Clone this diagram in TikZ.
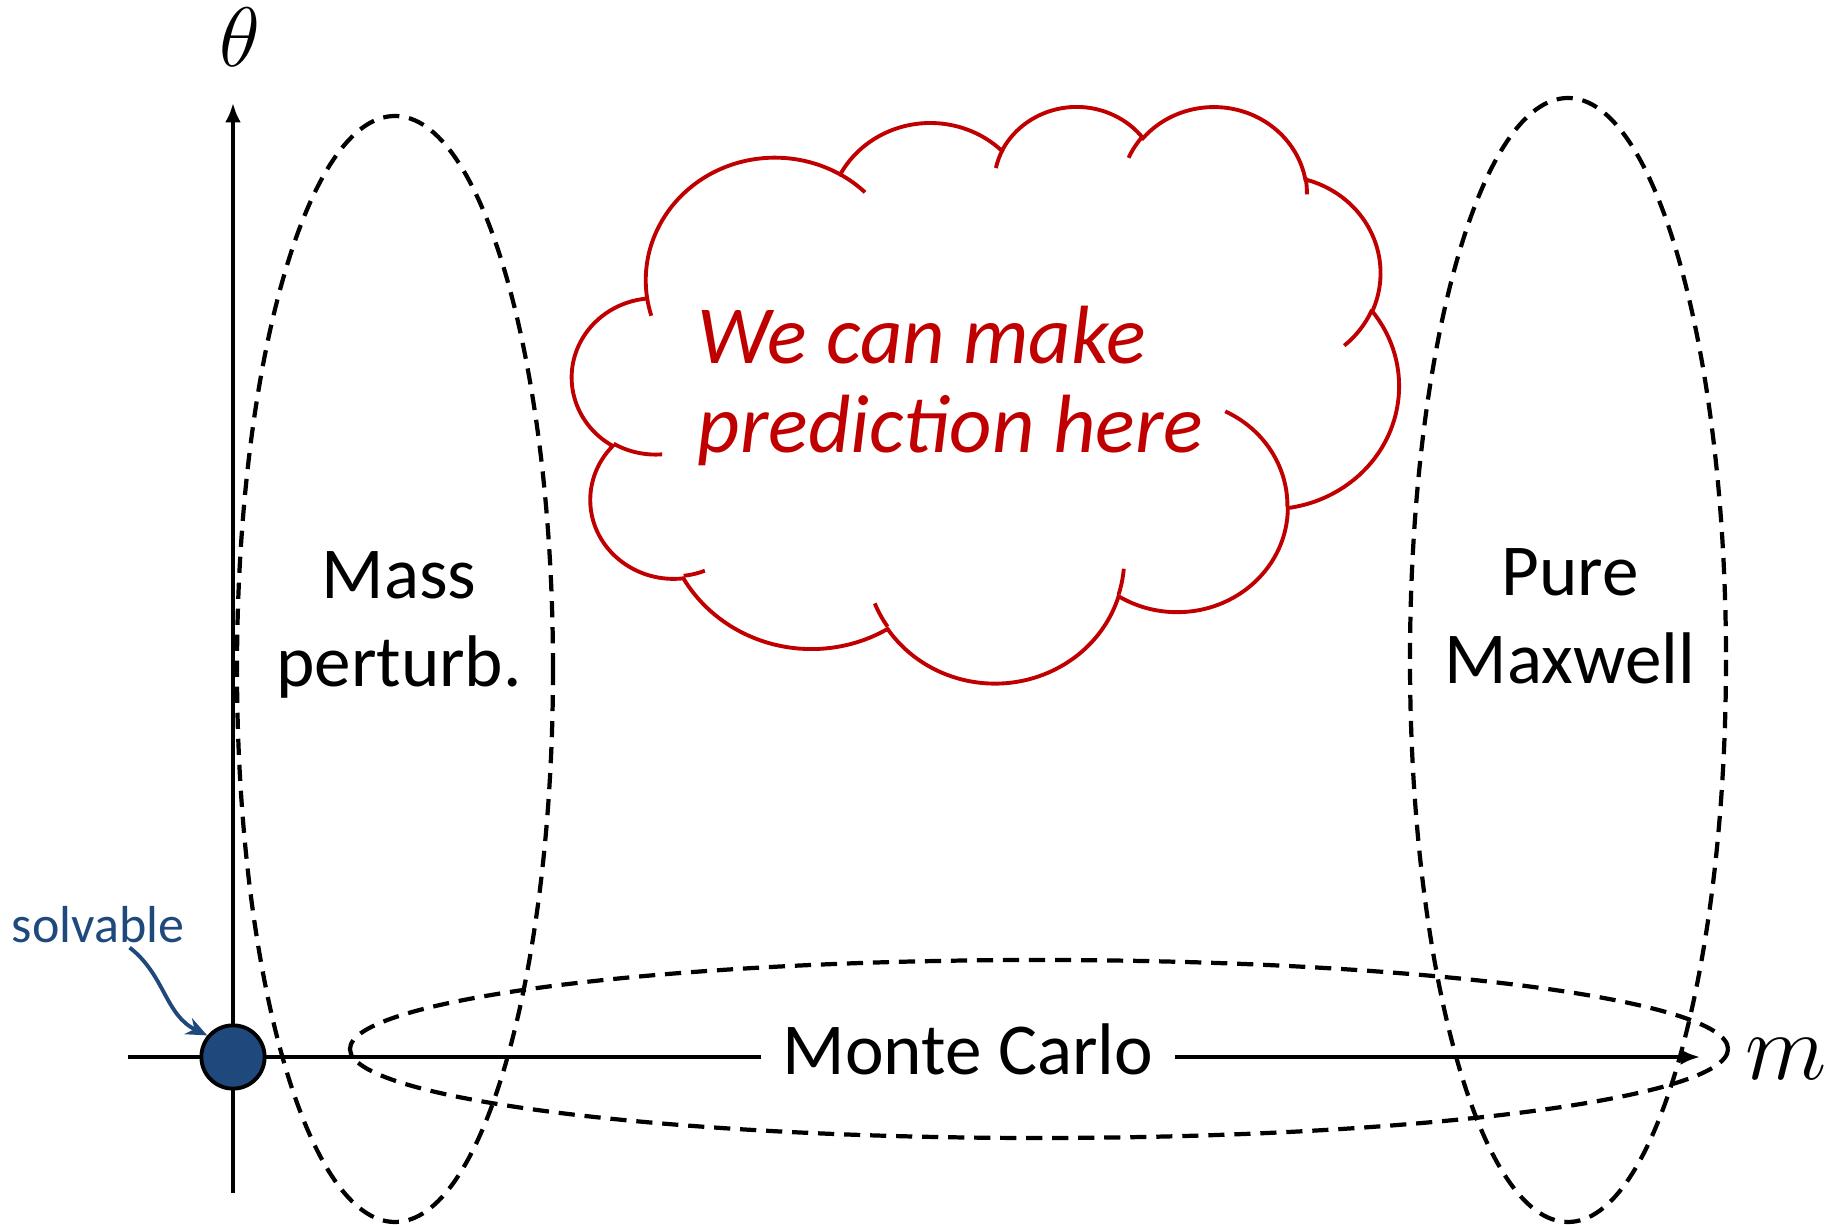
\RequirePackage{fix-cm}
\documentclass[tikz,border=0pt]{standalone}
\usepackage{fontspec}
\setmainfont{Carlito}
\usetikzlibrary{arrows.meta}
\definecolor{dotblue}{RGB}{31,73,125}
\definecolor{cloudred}{RGB}{192,0,0}

\begin{document}
\begin{tikzpicture}[x=0.01cm, y=-0.01cm,
    axisline/.style={line width=1.2pt},
    axisarrow/.style={axisline, -{Latex[length=5.5pt, width=4.5pt]}},
    region/.style={draw, line width=1.2pt, dash pattern=on 4.6pt off 2.8pt},
    regionlabel/.style={font=\fontsize{20.8}{25}\selectfont, align=center},
    cloudline/.style={draw=cloudred, line width=1.1pt},
    pptarc/.style n args={4}{insert path={arc[x radius=#1, y radius=#2,
        start angle={atan2(#1*sin(#3),#2*cos(#3))},
        delta angle={mod(atan2(#1*sin(#3+#4),#2*cos(#3+#4))-atan2(#1*sin(#3),#2*cos(#3))+720,360)}]}}
]
    \useasboundingbox (0,0) rectangle (1841,1225);

    \coordinate (xl) at (128,1057);
    \coordinate (xr) at (1700,1057);
    \coordinate (yb) at (233,1193);
    \coordinate (yt) at (233,103);

    \draw[region] (395,669) ellipse [x radius=158, y radius=553];
    \draw[region] (1568,660) ellipse [x radius=158, y radius=562];
    \draw[region] (1039,1049) ellipse [x radius=689, y radius=89];

    \node[regionlabel] (mass) at (399,625) {Mass\\perturb.};
    \node[regionlabel] (maxwell) at (1570,616) {Pure\\Maxwell};

    \node[font=\fontsize{20.8}{25}\selectfont, anchor=base, inner xsep=6pt] (mc) at (968,1075) {Monte Carlo};
    \draw[axisline] (xl) -- (xl -| mc.west);
    \draw[axisarrow] (xl -| mc.east) -- (xr);
    \draw[axisarrow] (yb) -- (yt);
    \node[font=\fontsize{24}{28}\selectfont] (theta) at (240,37) {$\theta$};
    \node[font=\fontsize{27}{32}\selectfont] (mlab) at (1786,1059) {$m$};

    \node[circle, draw, fill=dotblue, line width=1.1pt, inner sep=0pt, minimum size=18pt] (dot) at (xl -| yb) {};
    \node[font=\fontsize{14.8}{17}\selectfont, text=dotblue, anchor=base, inner sep=1pt] (solv) at (98,943) {solvable};
    \draw[dotblue, line width=1.1pt, -{Stealth[length=6pt, width=5pt]}] ([xshift=9pt]solv.south) .. controls (165,975) and (165,1015) .. (dot.140);

    % cloud
    \begin{scope}[xshift=5.72cm, yshift=-1.05cm, x=0.01912cm, y=-0.013333cm]
      \draw[cloudline] (39,143.7)
        [pptarc={67.53}{91.90}{-190.4875}{123.7805}]
        [pptarc={53.33}{72.67}{-144.1024}{89.9452}]
        [pptarc={43.65}{59.45}{-145.8079}{99.7230}]
        [pptarc={48.57}{65.95}{-130.9861}{117.2417}]
        [pptarc={53.33}{72.73}{-78.7089}{109.0269}]
        [pptarc={67.75}{92.20}{-46.2673}{130.2690}]
        [pptarc={57.85}{78.67}{0.6250}{114.0333}]
        [pptarc={67.52}{92.15}{22.4516}{115.1726}]
        [pptarc={77.20}{105.43}{66.2426}{75.7110}]
        [pptarc={43.60}{59.18}{-274.9421}{146.7356}]
        [pptarc={43.45}{59.45}{-246.8285}{152.5189}] -- cycle;
      \foreach \px/\py/\rx/\ry/\st/\sw in {
          46.93/261.77/43.45/59.45/86.7420/26.4295,
          69.28/348.99/43.60/59.18/73.6105/11.4475,
          164.78/390.90/67.52/92.15/137.6242/14.0811,
          288.27/347.51/67.52/92.15/6.4533/15.9984,
          341.29/229.54/57.85/78.67/-70.2924/70.9174,
          417.98/153.54/53.33/72.73/30.3180/27.7515,
          383.24/54.26/48.57/65.95/-13.7443/14.8589,
          290.78/39.52/48.57/65.95/-149.1815/18.1954,
          221.41/47.20/43.65/59.45/-163.4943/17.6864,
          140.00/51.92/67.53/91.90/-66.7070/12.3194,
          41.27/157.89/67.53/91.90/157.6544/11.8582}
        \draw[cloudline] (\px,\py) [pptarc={\rx}{\ry}{\st}{\sw}];
    \end{scope}

    \node[font=\fontsize{23.5}{25.3}\selectfont\itshape, text=cloudred, align=left, anchor=west, inner sep=0pt] (predict) at (697,386) {We can make\\prediction here};
\end{tikzpicture}
\end{document}
